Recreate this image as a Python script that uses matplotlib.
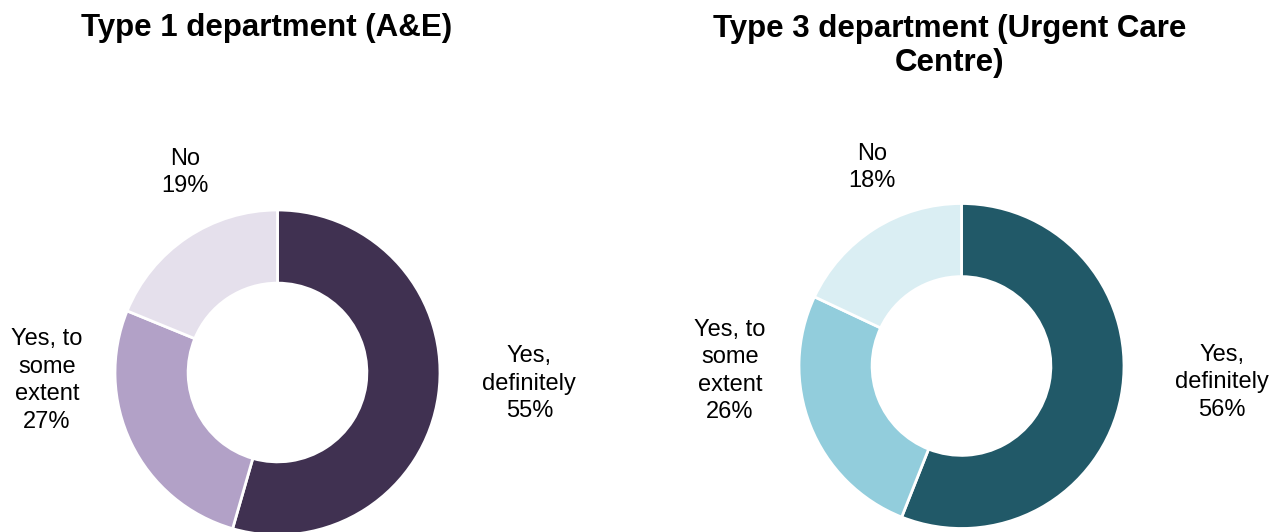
import matplotlib.pyplot as plt

plt.rcParams["font.family"] = ["Liberation Sans", "DejaVu Sans"]

# Survey answers, percentages as published
answers = ["Yes,\ndefinitely", "Yes, to\nsome\nextent", "No"]
type1_pct = [55, 27, 19]
type3_pct = [56, 26, 18]

type1_colors = ["#403151", "#B2A1C7", "#E5E0EC"]
type3_colors = ["#215968", "#92CDDC", "#DAEEF3"]

# where each label sits, in units of the donut radius
type1_label_pos = [(1.55, -0.07), (-1.42, -0.05), (-0.57, 1.23)]
type3_label_pos = [(1.60, -0.10), (-1.425, -0.03), (-0.55, 1.22)]

fig = plt.figure(figsize=(12.75, 5.32), dpi=100)


def donut(rect, values, colors, label_pos):
    ax = fig.add_axes(rect)
    ax.pie(
        values,
        colors=colors,
        startangle=90,
        counterclock=False,
        radius=1.0,
        wedgeprops=dict(width=0.45, edgecolor="white", linewidth=2.0),
    )
    for name, val, (x, y) in zip(answers, values, label_pos):
        ax.text(x, y, f"{name}\n{val}%", ha="center", va="center",
                fontsize=17, linespacing=1.32, color="black")
    ax.set_xlim(-1, 1)
    ax.set_ylim(-1, 1)
    ax.set_aspect("equal")
    ax.axis("off")
    return ax


W, H = 1275, 532
R = 162.5
donut([(277.5 - R) / W, (H - 372.5 - R) / H, 2 * R / W, 2 * R / H],
      type1_pct, type1_colors, type1_label_pos)
donut([(961.5 - R) / W, (H - 366 - R) / H, 2 * R / W, 2 * R / H],
      type3_pct, type3_colors, type3_label_pos)

fig.text(267 / W, 1 - 28 / H, "Type 1 department (A&E)", ha="center",
         va="center", fontsize=22.5, fontweight="bold")
fig.text(950 / W, 1 - 46 / H, "Type 3 department (Urgent Care\nCentre)",
         ha="center", va="center", fontsize=22.5, fontweight="bold",
         linespacing=1.2)

fig.savefig("out.png", dpi=100)
